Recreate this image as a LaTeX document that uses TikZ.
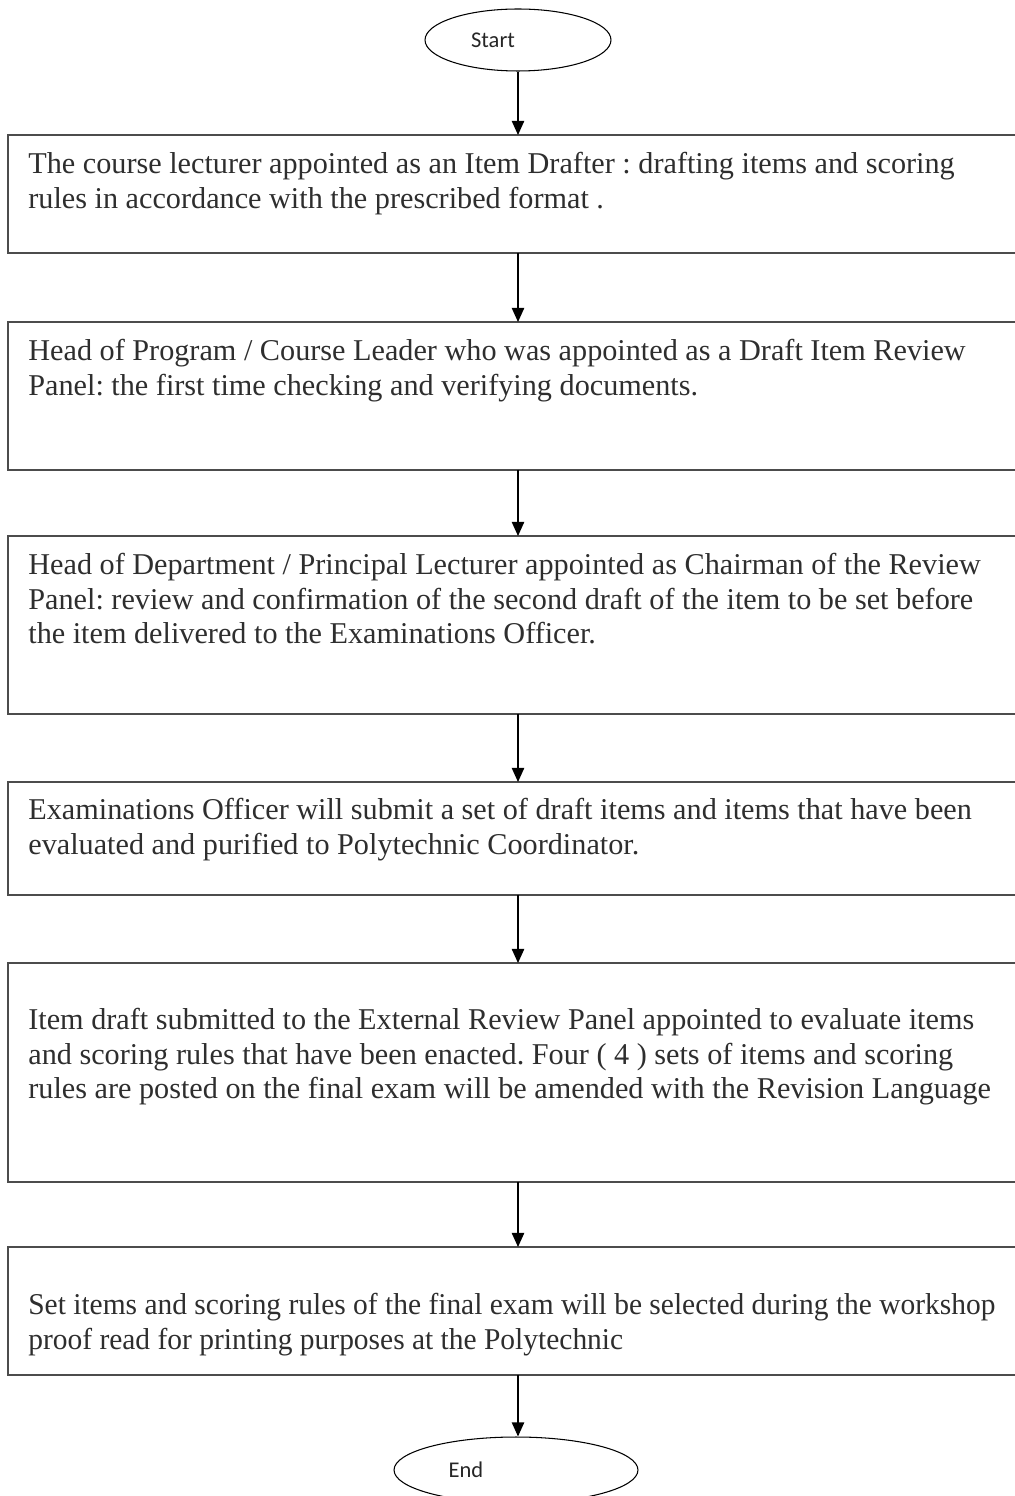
\documentclass[tikz,border=0pt]{standalone}
\usepackage{fontspec}
\setmainfont{Liberation Serif}
\newfontfamily\calfont{Carlito}
\usepackage{tikz}
\usetikzlibrary{shapes.geometric,arrows.meta}
\frenchspacing

\begin{document}
\begin{tikzpicture}[x=0.02cm,y=-0.02cm,
  stepbox/.style={draw=black!70,line width=1.1pt,minimum width=20.4cm,inner sep=0pt,outer sep=0pt},
  steptext/.style={anchor=north west,inner sep=0pt,align=left,text=black!82,
    font=\fontsize{17.2}{19.6}\selectfont},
  terminal/.style={draw,ellipse,line width=0.6pt,inner sep=0pt,text=black!85,
    font=\calfont\fontsize{12.8}{15}\selectfont},
  flow/.style={-{Triangle[width=7pt,length=8pt]},line width=0.8pt}]
  \useasboundingbox (0,0) rectangle (1014,1496);
  % start / end
  \node[terminal,minimum width=3.72cm,minimum height=1.24cm] (start) at (518,40) {Start\rule{1cm}{0pt}};
  \node[terminal,minimum width=4.88cm,minimum height=1.32cm] (end) at (516,1470) {End\rule{2cm}{0pt}};
  % steps
  \node[stepbox,minimum height=2.36cm] (b1) at (518,194) {};
  \node[stepbox,minimum height=2.96cm] (b2) at (518,396) {};
  \node[stepbox,minimum height=3.56cm] (b3) at (518,625) {};
  \node[stepbox,minimum height=2.26cm] (b4) at (518,838.5) {};
  \node[stepbox,minimum height=4.38cm] (b5) at (518,1072.5) {};
  \node[stepbox,minimum height=2.56cm] (b6) at (518,1311) {};
  \node[steptext] (t1) at (28,152) {The course lecturer appointed as an Item Drafter : drafting items and scoring\\rules in accordance with the prescribed format .};
  \node[steptext] (t2) at (28,339) {Head of Program / Course Leader who was appointed as a Draft Item Review\\Panel: the first time checking and verifying documents.};
  \node[steptext] (t3) at (28,553) {Head of Department / Principal Lecturer appointed as Chairman of the Review\\Panel: review and confirmation of the second draft of the item to be set before\\the item delivered to the Examinations Officer.};
  \node[steptext] (t4) at (28,798) {Examinations Officer will submit a set of draft items and items that have been\\evaluated and purified to Polytechnic Coordinator.};
  \node[steptext] (t5) at (28,1008) {Item draft submitted to the External Review Panel appointed to evaluate items\\and scoring rules that have been enacted. Four ( 4 ) sets of items and scoring\\rules are posted on the final exam will be amended with the Revision Language};
  \node[steptext,font=\fontsize{17.2}{19.6}\selectfont\addfontfeature{FakeStretch=0.975}] (t6) at (28,1293) {Set items and scoring rules of the final exam will be selected during the workshop\\proof read for printing purposes at the Polytechnic};
  % arrows
  \draw[flow] (start) -- (b1);
  \draw[flow] (b1) -- (b2);
  \draw[flow] (b2) -- (b3);
  \draw[flow] (b3) -- (b4);
  \draw[flow] (b4) -- (b5);
  \draw[flow] (b5) -- (b6);
  \draw[flow] (b6.south) -- (b6.south |- end.north);
\end{tikzpicture}
\end{document}
